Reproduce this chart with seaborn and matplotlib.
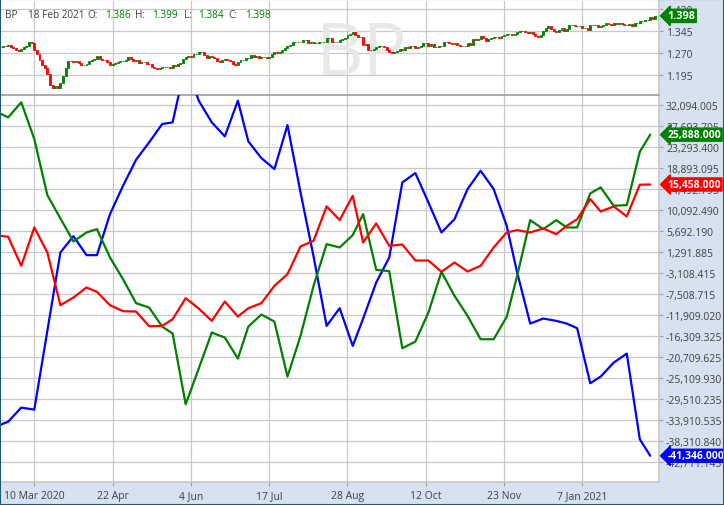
import matplotlib
matplotlib.use("Agg")
import matplotlib.pyplot as plt
from matplotlib.patches import Rectangle
import seaborn as sns
import pandas as pd
import numpy as np

# ---- trading calendar (CME FX sessions) ----
holidays = ["2020-04-10", "2020-05-25", "2020-07-03", "2020-09-07", "2020-11-26",
            "2020-12-25", "2021-01-01", "2021-01-18", "2021-02-15"]

# ---- BP daily closes ----
first_open = 1.292
close_feb20 = [1.290, 1.294, 1.293, 1.297, 1.292, 1.287, 1.281]
close_mar20 = [1.279, 1.284, 1.290, 1.296, 1.307, 1.305, 1.281, 1.268, 1.245, 1.228, 1.218,
               1.200, 1.160, 1.152, 1.156, 1.150, 1.168, 1.190, 1.220, 1.244, 1.242, 1.240]
close_apr20 = [1.242, 1.237, 1.228, 1.229, 1.234, 1.242, 1.246, 1.251, 1.259, 1.250, 1.246,
               1.245, 1.240, 1.230, 1.232, 1.236, 1.238, 1.242, 1.244, 1.248, 1.256]
close_may20 = [1.250, 1.244, 1.245, 1.236, 1.238, 1.240, 1.233, 1.232, 1.224, 1.220,
               1.214, 1.219, 1.224, 1.222, 1.221, 1.218, 1.229, 1.227, 1.232, 1.236]
close_jun20 = [1.249, 1.256, 1.259, 1.257, 1.267, 1.268, 1.274, 1.275, 1.262, 1.254, 1.259,
               1.256, 1.255, 1.243, 1.238, 1.248, 1.249, 1.245, 1.242, 1.234, 1.231, 1.240]
close_jul20 = [1.247, 1.248, 1.253, 1.254, 1.262, 1.258, 1.260, 1.254, 1.257, 1.258, 1.254,
               1.257, 1.266, 1.273, 1.271, 1.274, 1.280, 1.287, 1.293, 1.298, 1.308, 1.310]
close_aug20 = [1.307, 1.307, 1.314, 1.315, 1.306, 1.307, 1.305, 1.305, 1.308, 1.310, 1.310,
               1.323, 1.323, 1.309, 1.309, 1.309, 1.314, 1.320, 1.323, 1.334, 1.337]
close_sep20 = [1.341, 1.331, 1.327, 1.327, 1.299, 1.300, 1.281, 1.281, 1.285, 1.291, 1.293,
               1.296, 1.291, 1.282, 1.273, 1.271, 1.274, 1.276, 1.283, 1.281, 1.292]
close_oct20 = [1.287, 1.295, 1.296, 1.286, 1.292, 1.293, 1.305, 1.305, 1.293, 1.303, 1.290,
               1.291, 1.295, 1.294, 1.310, 1.307, 1.304, 1.303, 1.305, 1.298, 1.293, 1.295]
close_nov20 = [1.293, 1.305, 1.297, 1.318, 1.315, 1.319, 1.328, 1.321, 1.312, 1.319,
               1.322, 1.324, 1.325, 1.323, 1.330, 1.334, 1.335, 1.337, 1.334, 1.336]
close_dec20 = [1.342, 1.345, 1.347, 1.344, 1.339, 1.341, 1.335, 1.330, 1.324, 1.334, 1.347,
               1.357, 1.362, 1.353, 1.346, 1.342, 1.349, 1.355, 1.345, 1.353, 1.365, 1.367]
close_jan21 = [1.362, 1.362, 1.362, 1.356, 1.357, 1.351, 1.365, 1.366, 1.368, 1.359,
               1.363, 1.366, 1.373, 1.369, 1.367, 1.373, 1.371, 1.372, 1.370]
close_feb21 = [1.367, 1.365, 1.369, 1.364, 1.374, 1.375, 1.382, 1.382, 1.384, 1.385,
               1.393, 1.386, 1.398]

# ---- weekly COT positions (Tuesdays, 18 Feb 2020 .. 16 Feb 2021) ----
cot_blue = [-35300, -34194, -31260, -31679, -15194, 1220, 4643, 662, 662, 9253, 15190,
            20639, 24271, 28113, 28462, 40800, 33000, 28462, 25528, 33002, 24480, 20988,
            18683, 27903, 13793, 382, -14146, -10445, -18337, -12610, -5066, 172, 15889,
            17845, 11698, 5411, 8205, 14492, 18333, 14492, 6811, -2971, -13658, -12610,
            -13100, -13658, -14636, -26161, -24764, -21830, -19944, -37896, -41346]
cot_green = [30800, 29510, 32653, 24969, 13234, 8345, 3526, 5411, 6110, 172, -4368,
             -9397, -10305, -14286, -15753, -30561, -23088, -15544, -16591, -20992, -14286,
             -11772, -13239, -24764, -16241, -5765, 2966, 2268, 4852, 9253, -2412, -2691,
             -18827, -17430, -11353, -2831, -7860, -12051, -16941, -16941, -12261, -3669,
             7996, 6110, 7996, 6459, 6459, 13584, 14841, 10999, 11138, 22315, 25888]
cot_red = [4870, 4503, -1574, 6459, 1220, -9816, -8210, -6114, -7022, -9816, -11073,
           -11143, -14216, -14146, -12750, -8349, -10515, -13100, -9048, -12191, -10445,
           -9397, -5765, -3320, 2478, 3666, 10860, 7996, 13095, 3316, 7297, 2618, 2897,
           -456, -456, -2831, -875, -2761, -1573, 2268, 5411, 5900, 5411, 6250, 5062, 6808,
           8205, 12397, 9812, 10860, 8764, 15400, 15458]

cot_ticks = [32094.005, 27693.705, 23293.400, 18893.095, 14492.795, 10092.490, 5692.190,
             1291.885, -3108.415, -7508.715, -11909.020, -16309.325, -20709.625,
             -25109.930, -29510.235, -33910.535, -38310.840, -42711.145]
price_ticks = [1.420, 1.345, 1.270, 1.195]
label_dates = ["2020-03-10", "2020-04-22", "2020-06-04", "2020-07-17", "2020-08-28",
               "2020-10-12", "2020-11-23", "2021-01-07"]
date_labels = ["10 Mar 2020", "22 Apr", "4 Jun", "17 Jul", "28 Aug", "12 Oct", "23 Nov",
               "7 Jan 2021"]

GREEN, RED, BLUE = "#008000", "#ff0000", "#0000ff"
BAND = "#d6e2ef"
GRID = "#c8c8c8"
TXT = "#404040"

sns.set_theme(style="white")
plt.rcParams["font.family"] = ["Open Sans", "DejaVu Sans"]

sessions = pd.bdate_range("2020-02-18", "2021-02-18")
sessions = sessions[~sessions.isin(pd.to_datetime(holidays))]
pos = pd.Series(np.arange(len(sessions)), index=sessions)

closes = (close_feb20 + close_mar20 + close_apr20 + close_may20 + close_jun20 + close_jul20
          + close_aug20 + close_sep20 + close_oct20 + close_nov20 + close_dec20
          + close_jan21 + close_feb21)
price_days = sessions[sessions >= "2020-02-20"]
candles = pd.DataFrame({"x": pos[price_days].values, "close": closes})
candles["open"] = [first_open] + closes[:-1]

cot_dates = pd.date_range("2020-02-18", "2021-02-16", freq="7D")
cot = pd.DataFrame({"x": pos[cot_dates].values, "Asset Mgr": cot_blue,
                    "Dealer": cot_green, "Leveraged": cot_red})
cot_long = cot.melt(id_vars="x", var_name="group", value_name="net")

W, H = 724, 506
fig = plt.figure(figsize=(W / 100, H / 100), dpi=100)
fx = lambda x: x / W
fy = lambda y: 1 - y / H

# light blue scale bands behind everything
fig.patches.append(Rectangle((fx(659), 0), 1 - fx(659), 1, transform=fig.transFigure,
                             facecolor=BAND, edgecolor="none", zorder=-5))
fig.patches.append(Rectangle((0, 0), 1, fy(483), transform=fig.transFigure,
                             facecolor=BAND, edgecolor="none", zorder=-5))

ax_top = fig.add_axes([0, fy(96), fx(659), (96 - 2) / H])
ax_low = fig.add_axes([0, fy(483), fx(659), (483 - 96) / H])

x0 = 1.86
x1 = x0 + 659 / 2.61
tick_x = pos[pd.to_datetime(label_dates)].values

for ax in (ax_top, ax_low):
    ax.set_facecolor("white")
    ax.set_xlim(x0, x1)
    ax.set_xticks(tick_x)
    ax.grid(True, color=GRID, linewidth=0.9)
    ax.set_axisbelow(True)
    ax.yaxis.tick_right()
    ax.tick_params(axis="y", right=True, length=3, width=0.8, color="#a0a0a0",
                   labelsize=7.5, labelcolor=TXT, pad=2)
    for s in ("left", "top"):
        ax.spines[s].set_visible(False)
    ax.spines["right"].set_color(GRID)
    ax.spines["bottom"].set_color(GRID)

# upper panel: candles
up = candles["close"] >= candles["open"]
colors = np.where(up, GREEN, RED)
ax_top.bar(candles["x"], candles["close"] - candles["open"], bottom=candles["open"],
           width=0.75, color=colors, edgecolor=colors, linewidth=0.6, zorder=3)
ax_top.set_ylim(1.1264, 1.449)
ax_top.set_yticks(price_ticks)
ax_top.set_yticklabels([f"{v:.3f}" for v in price_ticks])
ax_top.tick_params(axis="x", bottom=False, labelbottom=False)
ax_top.spines["bottom"].set_visible(False)
ax_top.text(0.549, 0.223, "BP", transform=ax_top.transAxes, ha="center", va="baseline",
            fontsize=53, color="#e8e8e8", zorder=1)

# lower panel: COT lines
sns.lineplot(data=cot_long, x="x", y="net", hue="group", estimator=None,
             palette={"Asset Mgr": BLUE, "Dealer": GREEN, "Leveraged": RED},
             linewidth=1.6, legend=False, ax=ax_low, zorder=4)
ax_low.set_xlim(x0, x1)
ax_low.set_ylim(-46830, 34190)
ax_low.set_yticks(cot_ticks)
ax_low.set_yticklabels([f"{v:,.3f}" for v in cot_ticks])
ax_low.set_xticklabels(date_labels)
ax_low.tick_params(axis="x", bottom=True, length=3, width=0.8, color="#a0a0a0",
                   labelsize=7.5, labelcolor=TXT, pad=3)
ax_low.spines["top"].set_visible(True)
ax_low.spines["top"].set_color("#a0a0a0")
ax_low.set_xlabel("")
ax_low.set_ylabel("")


def tag(ax, y, text, color, size=7.5):
    ax.annotate(text, xy=(1.0, y), xycoords=ax.get_yaxis_transform(), xytext=(6, 0),
                textcoords="offset points", ha="left", va="center", color="white",
                fontsize=size, fontweight="bold",
                bbox=dict(boxstyle="larrow,pad=0.1", fc=color, ec=color),
                annotation_clip=False, zorder=10)


tag(ax_top, closes[-1], f"{closes[-1]:.3f}", GREEN, 7.8)
tag(ax_low, cot_green[-1], f"{cot_green[-1]:,.3f}", GREEN)
tag(ax_low, cot_red[-1], f"{cot_red[-1]:,.3f}", RED)
tag(ax_low, cot_blue[-1], f"{cot_blue[-1]:,.3f}", BLUE)

# header line
header = [(5.5, "BP", TXT), (27.7, "18 Feb 2021", TXT), (87.7, "O:", TXT),
          (105, f"{candles['open'].iloc[-1]:.3f}", GREEN), (135, "H:", TXT),
          (152, "1.399", GREEN), (184, "L:", TXT), (198.5, "1.384", GREEN),
          (228.5, "C:", TXT), (244.7, f"{closes[-1]:.3f}", GREEN)]
for hx, s, c in header:
    fig.text(fx(hx), fy(15), s, ha="left", va="center", fontsize=7.2, color=c, zorder=20)

fig.patches.append(Rectangle((0, 0), 1, 1, transform=fig.transFigure, facecolor="none",
                             edgecolor="#1d5a70", linewidth=1.5, zorder=30))

fig.savefig("out.png", dpi=100)
